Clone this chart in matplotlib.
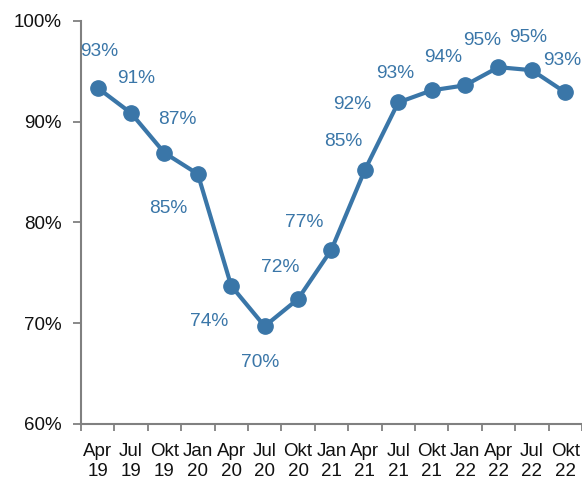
import matplotlib
matplotlib.use("Agg")
import matplotlib.pyplot as plt
from matplotlib import font_manager
import numpy as np

categories = ["Apr\n19", "Jul\n19", "Okt\n19", "Jan\n20", "Apr\n20", "Jul\n20", "Okt\n20",
              "Jan\n21", "Apr\n21", "Jul\n21", "Okt\n21", "Jan\n22", "Apr\n22", "Jul\n22", "Okt\n22"]
values = [93.35, 90.85, 86.9, 84.8, 73.7, 69.7, 72.4, 77.3, 85.2, 91.9, 93.1, 93.6, 95.4, 95.1, 92.9]
y_ticks = [60, 70, 80, 90, 100]

names = {f.name for f in font_manager.fontManager.ttflist}
def pick(cands):
    for c in cands:
        if c in names:
            return c
    return "DejaVu Sans"
labelfont = pick(["Arial Narrow", "Liberation Sans Narrow", "Liberation Sans"])
tickfont = pick(["Franklin Gothic Book", "Liberation Sans"])

color = "#3A76A8"
fig = plt.figure(figsize=(5.82, 4.84), dpi=100)
ax = fig.add_axes([0.139, 0.124, 0.861, 0.833])
x = np.arange(len(values)) + 0.5
ax.plot(x, values, color=color, lw=3, marker="o", ms=11, zorder=3, clip_on=False)

# label offsets in pixels (dx, dy)
offsets = [(2, 36), (5, 35), (13, 33), (-30, -34), (-22, -36), (-5, -36), (-18, 32),
           (-27, 27), (-22, 28), (-46, -2), (-36, 17), (-22, 28), (-16, 27), (-4, 33), (-3, 32)]
for xi, v, (dx, dy) in zip(x, values, offsets):
    ax.annotate(f"{v:.0f}%", (xi, v), xytext=(dx * 0.72, dy * 0.72), textcoords="offset points",
                ha="center", va="center", color=color, fontsize=13.8, family=labelfont)

ax.set_xlim(0, len(values))
ax.set_ylim(60, 100)
ax.set_yticks(y_ticks)
ax.set_yticklabels([f"{t}%" for t in y_ticks], family=tickfont, fontsize=13.5, color="#111111")
ax.set_xticks(np.arange(len(values) + 1))
ax.set_xticklabels([])
ax.set_xticks(x, minor=True)
ax.set_xticklabels(categories, minor=True, family=tickfont, fontsize=13.5, linespacing=1.2, color="#111111")
ax.tick_params(axis="x", which="minor", length=0, pad=14)
ax.tick_params(axis="x", which="major", length=5, width=1.3, color="#808080", direction="out")
ax.tick_params(axis="y", length=6, width=1.3, color="#808080", direction="out", pad=8)
for s in ["top", "right"]:
    ax.spines[s].set_visible(False)
for s in ["left", "bottom"]:
    ax.spines[s].set_color("#808080")
    ax.spines[s].set_linewidth(1.5)

fig.savefig("out.png", dpi=100)
